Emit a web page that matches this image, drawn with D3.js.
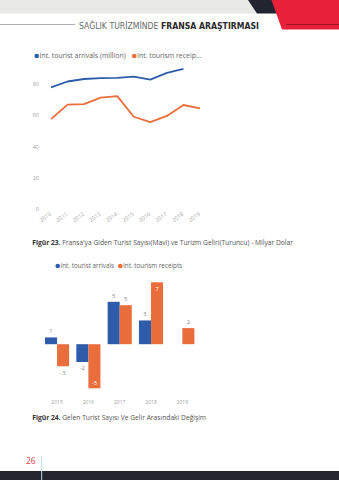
<!DOCTYPE html>
<html><head><meta charset="utf-8">
<script src="https://cdn.jsdelivr.net/npm/d3@7"></script>
<style>
html,body{margin:0;padding:0;background:#fff;}
svg{display:block;}
</style></head>
<body>
<svg id="c" width="339" height="480"></svg>
<script>
// ---- data ----
const lineYears = ["2010","2011","2012","2013","2014","2015","2016","2017","2018","2019"];
const arrivals = [77.6, 81.4, 83.0, 83.6, 83.7, 84.5, 82.6, 86.9, 89.4];
const receipts = [57.4, 66.6, 67.0, 71.1, 72.1, 58.9, 55.5, 59.4, 66.4, 64.3];
const lineTicks = [0, 20, 40, 60, 80];
const lineLegend = ["Int. tourist arrivals (million)", "Int. tourism receip..."];

const barYears = ["2015","2016","2017","2018","2019"];
const arrivalsChange = [0.8, -2.1, 5.0, 2.8, null];
const receiptsChange = [-2.6, -5.2, 4.6, 7.3, 1.9];
const barLegend = ["Int. tourist arrivals", "Int. tourism receipts"];

const BLUE = "#2e5caa", ORANGE = "#ea6e3c";
const svg = d3.select("#c");
const FONT = "'Open Sans', 'Noto Sans', sans-serif";

// ---- header ----
svg.append("path").attr("d","M0,0H250L259,13.5H0Z").attr("fill","#e8e8e6");
svg.append("path").attr("d","M248,0H273L278,13.5H257Z").attr("fill","#22252f");
svg.append("path").attr("d","M271.5,0H339V29.5H282Z").attr("fill","#e8213a");
svg.append("line").attr("x1",0).attr("x2",75).attr("y1",24.5).attr("y2",24.5).attr("stroke","#8a8a8a").attr("stroke-width",0.7);
svg.append("line").attr("x1",286).attr("x2",339).attr("y1",24.5).attr("y2",24.5).attr("stroke","#7a1020").attr("stroke-width",0.7);
const TF = "'DejaVu Sans Condensed','Liberation Sans Narrow','Roboto',sans-serif";
const title = svg.append("text").attr("x",79).attr("y",28.5).attr("font-family",TF).attr("font-size",10.5);
title.append("tspan").attr("fill","#6a6a6a").attr("font-weight",300).text("SAĞLIK TURİZMİNDE ");
title.append("tspan").attr("fill","#2a2a2a").attr("font-weight",700).text("FRANSA ARAŞTIRMASI");
const tw = title.node().getComputedTextLength();
if (tw > 180.3) title.attr("font-size", 10.5 * 180.3 / tw);
else title.attr("textLength",180.3).attr("lengthAdjust","spacing");

// ---- legend helper ----
function legend(y, items, fs){
  items.forEach(it=>{
    svg.append("circle").attr("cx",it.x).attr("cy",y).attr("r",2.3).attr("fill",it.c);
    svg.append("text").attr("x",it.x+2.8).attr("y",y+2.3).attr("font-family",FONT).attr("font-size",fs)
      .attr("fill","#666").text(it.t);
  });
}

// ---- line chart ----
const xL = d3.scalePoint().domain(lineYears).range([51, 200]);
const yL = d3.scaleLinear().domain([0, 80]).range([209, 83.7]);
const gy = svg.append("g").attr("transform","translate(39,0)")
  .call(d3.axisLeft(yL).tickValues(lineTicks).tickSize(0).tickPadding(0));
gy.select(".domain").remove();
gy.selectAll("text").attr("font-family",FONT).attr("font-size",5.5).attr("fill","#a0a0a0");
const gx = svg.append("g").attr("transform","translate(0,209)")
  .call(d3.axisBottom(xL).tickSize(0).tickPadding(0));
gx.select(".domain").remove();
gx.selectAll("text").attr("font-family",FONT).attr("font-size",5.5).attr("fill","#a0a0a0")
  .attr("text-anchor","end").attr("dy",0).attr("transform","translate(0,6) rotate(-35)");
const line = d3.line().x((d,i)=>xL(lineYears[i])).y(d=>yL(d));
svg.append("path").datum(receipts).attr("d",line).attr("fill","none").attr("stroke",ORANGE).attr("stroke-width",1.8).attr("stroke-linejoin","round");
svg.append("path").datum(arrivals).attr("d",line).attr("fill","none").attr("stroke",BLUE).attr("stroke-width",1.8).attr("stroke-linejoin","round");
legend(56, [{x:36.7,c:BLUE,t:lineLegend[0]},{x:134.2,c:ORANGE,t:lineLegend[1]}], 6.9);

// captions
function caption(y, bold, rest){
  const t = svg.append("text").attr("x",32.3).attr("y",y).attr("font-family",FONT).attr("font-size",6.7).attr("fill","#555");
  t.append("tspan").attr("font-weight",700).attr("fill","#333").text(bold);
  t.append("tspan").text(rest);
}
caption(244.5, "Figür 23.", " Fransa'ya Giden Turist Sayısı(Mavi) ve Turizm Geliri(Turuncu) - Milyar Dolar");

// ---- bar chart ----
const x0 = d3.scaleBand().domain(barYears).range([41.4, 198]).paddingInner(0.23).paddingOuter(0.115);
const series = [{k:"a",vals:arrivalsChange,c:BLUE},{k:"r",vals:receiptsChange,c:ORANGE}];
const x1 = d3.scaleBand().domain(["a","r"]).range([0, x0.bandwidth()]);
const allV = arrivalsChange.concat(receiptsChange).filter(v=>v!=null);
const yB = d3.scaleLinear().domain(d3.extent(allV)).range([388.3, 282.3]);
const gxb = svg.append("g").attr("transform","translate(0,400.5)")
  .call(d3.axisBottom(x0).tickSize(0).tickPadding(0));
gxb.select(".domain").remove();
gxb.selectAll("text").attr("font-family",FONT).attr("font-size",5).attr("fill","#a0a0a0");
const [yBot, yTop] = yB.range();
series.forEach(s=>{
  s.vals.forEach((v,i)=>{
    if(v==null) return;
    const x = x0(barYears[i]) + x1(s.k), w = x1.bandwidth();
    const y0 = yB(0), y1 = yB(v);
    svg.append("rect").attr("x",x).attr("y",Math.min(y0,y1)).attr("width",w).attr("height",Math.abs(y1-y0)).attr("fill",s.c);
    const lbl = Math.round(v);
    let ly, inside;
    if(v>=0){ inside = (y1-9) < yTop; ly = inside ? y1+6.7 : y1-6.2; }
    else { inside = (y1+9) > yBot; ly = inside ? y1-5.3 : y1+6.3; }
    svg.append("text").attr("x",x+w/2).attr("y",ly).attr("dy","0.35em").attr("text-anchor","middle")
      .attr("font-family",FONT).attr("font-size",5.8).attr("fill",inside?"#fff":"#8a8a8a").text(lbl);
  });
});
legend(266, [{x:57.7,c:BLUE,t:barLegend[0]},{x:120.3,c:ORANGE,t:barLegend[1]}], 6.3);
caption(420.3, "Figür 24.", " Gelen Turist Sayısı Ve Gelir Arasındaki Değişim");

// ---- footer ----
svg.append("rect").attr("x",0).attr("y",471).attr("width",339).attr("height",9).attr("fill","#23252f");
svg.append("line").attr("x1",41.7).attr("x2",41.7).attr("y1",456).attr("y2",480).attr("stroke","#b9dcea").attr("stroke-width",1);
svg.append("text").attr("x",26).attr("y",464.3).attr("font-family",FONT).attr("font-size",8.5).attr("fill","#e23a4a").text("26");
</script>
</body></html>
